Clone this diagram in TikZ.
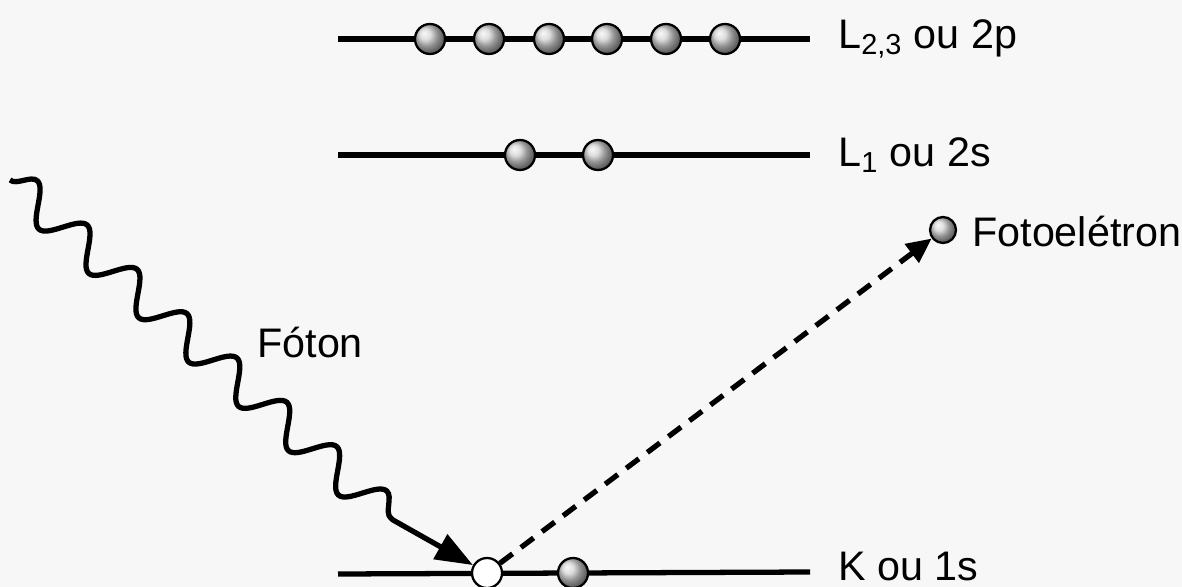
\documentclass[tikz,border=0pt]{standalone}
\usepackage{fontspec}
\setmainfont{Liberation Sans}
\usetikzlibrary{positioning,arrows.meta,decorations.pathmorphing}

\begin{document}
\begin{tikzpicture}[x=0.02cm,y=-0.02cm,
  electron/.style={circle,draw,line width=1.3pt,shading=ball,ball color=gray!35,minimum size=0.6cm,inner sep=0pt},
  holenode/.style={circle,draw,line width=1.3pt,fill=white,minimum size=0.6cm,inner sep=0pt},
  level/.style={line width=3pt},
  lvltext/.style={font=\fontsize{23.5}{28}\selectfont,anchor=west,inner sep=0pt}]
\fill[black!3] (0,0) rectangle (1182,587);
\useasboundingbox (0,0) rectangle (1182,587);

% levels
\coordinate (pa) at (338,39);
\coordinate (pb) at (810,39);
\coordinate (sa) at (338,155);
\coordinate (sb) at (810,155);
\coordinate (ka) at (338,574);
\coordinate (kb) at (810,572);
\draw[level] (pa) -- (pb);
\draw[level] (sa) -- (sb);
\draw[level] (ka) -- (kb);
\node[lvltext] (ptext) at (838,39) {L\textsubscript{2,3} ou 2p};
\node[lvltext] (stext) at (838,155) {L\textsubscript{1} ou 2s};
\node[lvltext] (ktext) at (838,566) {K ou 1s};

% electrons
\foreach \x [count=\i] in {430,489,549,607,666,725}
  \node[electron] (p\i) at (\x,39) {};
\node[electron] (s1) at (520,155) {};
\node[electron] (s2) at (598,155) {};
\node[holenode] (hole) at (487,573) {};
\node[electron] (k2) at (573,573) {};
\node[electron, minimum size=0.52cm] (fe) at (943,230) {};
\node[lvltext] (fetext) at (972,232) {Fotoelétron};

% photon
\coordinate (phstart) at (10,180);
\coordinate (phbend) at (393,520);
\draw[line width=3pt,-{Triangle[length=0.75cm,width=0.55cm]},
  decoration={snake,amplitude=10pt,segment length=38pt}]
  (phstart) decorate {-- (phbend)} -- (hole);
\node[lvltext] (phtext) at (257,342) {Fóton};

\draw[line width=3pt,dash pattern=on 9pt off 6pt,-{Triangle[length=0.5cm,width=0.45cm]}] (hole) -- (fe);
\end{tikzpicture}
\end{document}
